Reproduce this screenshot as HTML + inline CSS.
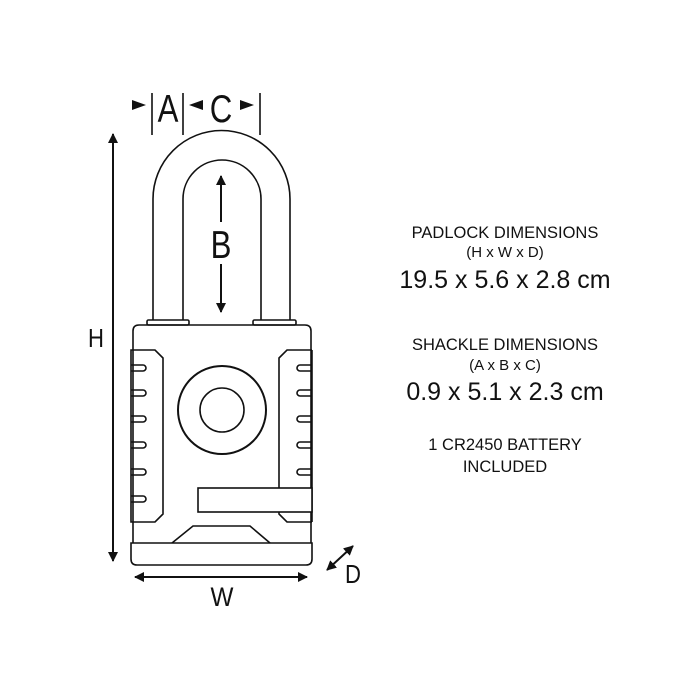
<!DOCTYPE html>
<html><head><meta charset="utf-8"><style>
html,body{margin:0;padding:0;background:#fff;}
svg{display:block;}
text{font-family:"Liberation Sans",sans-serif;fill:#111;}
</style></head><body>
<svg width="700" height="700" viewBox="0 0 700 700" xmlns="http://www.w3.org/2000/svg">
<defs>
<marker id="ah" viewBox="0 0 10 10" refX="9" refY="5" markerWidth="5" markerHeight="5" orient="auto-start-reverse" markerUnits="strokeWidth"><path d="M0,0 L10,5 L0,10 z" fill="#111"/></marker>
</defs>
<g fill="none" stroke="#111" stroke-width="1.6">
<path d="M153,320 V199 A68,68 0 0 1 290,199 V320"/>
<path d="M183,320 V199 A39,39 0 0 1 261,199 V320"/>
<rect x="147" y="320" width="42" height="5" rx="1.5"/>
<rect x="253" y="320" width="43" height="5" rx="1.5"/>
<path d="M133,522 V331 Q133,325 139,325 H305 Q311,325 311,331 V522"/>
<path d="M131,350 H155 L163,358 V514 L155,522 H131 Z M131,365 H143 A3,3 0 0 1 143,371 H131 M131,390 H143 A3,3 0 0 1 143,396 H131 M131,416 H143 A3,3 0 0 1 143,422 H131 M131,442 H143 A3,3 0 0 1 143,448 H131 M131,469 H143 A3,3 0 0 1 143,475 H131 M131,496 H143 A3,3 0 0 1 143,502 H131"/>
<path d="M312,350 H287 L279,358 V488 M279,512 V514 L287,522 H312 M312,365 H300 A3,3 0 0 0 300,371 H312 M312,390 H300 A3,3 0 0 0 300,396 H312 M312,416 H300 A3,3 0 0 0 300,422 H312 M312,442 H300 A3,3 0 0 0 300,448 H312 M312,469 H300 A3,3 0 0 0 300,475 H312 M312,496 H300 A3,3 0 0 0 300,502 H312"/>
<line x1="312" y1="350" x2="312" y2="522"/>
<rect x="198" y="488" width="114" height="24" fill="#fff"/>
<circle cx="222" cy="410" r="44" stroke-width="2"/>
<circle cx="222" cy="410" r="22"/>
<path d="M133,522 V543 M311,522 V543 M172,543 L193,526 H250 L270,543"/>
<path d="M131,543 H312 V559 Q312,565 306,565 H137 Q131,565 131,559 Z"/>
<line x1="152" y1="93" x2="152" y2="135"/>
<line x1="183" y1="93" x2="183" y2="135"/>
<line x1="260" y1="93" x2="260" y2="135"/>
</g>
<g fill="#111">
<path d="M132,100 L146,105 L132,110 Z"/>
<path d="M203,100 L189,105 L203,110 Z"/>
<path d="M240,100 L254,105 L240,110 Z"/>
</g>
<g stroke="#111" stroke-width="2" fill="none">
<line x1="221" y1="176" x2="221" y2="222" marker-start="url(#ah)"/>
<line x1="221" y1="264" x2="221" y2="312" marker-end="url(#ah)"/>
<line x1="113" y1="134" x2="113" y2="561" marker-start="url(#ah)" marker-end="url(#ah)"/>
<line x1="135" y1="577" x2="307" y2="577" marker-start="url(#ah)" marker-end="url(#ah)"/>
<line x1="327" y1="570" x2="353" y2="546" marker-start="url(#ah)" marker-end="url(#ah)"/>
</g>
<text transform="translate(168,122) scale(0.8,1)" font-size="39" text-anchor="middle">A</text>
<text transform="translate(221,122) scale(0.8,1)" font-size="39" text-anchor="middle">C</text>
<text transform="translate(221,258) scale(0.8,1)" font-size="39" text-anchor="middle">B</text>
<text transform="translate(96,347) scale(0.85,1)" font-size="26" text-anchor="middle">H</text>
<text transform="translate(222,606) scale(0.9,1)" font-size="27" text-anchor="middle">W</text>
<text transform="translate(353,583) scale(0.85,1)" font-size="26" text-anchor="middle">D</text>
<g text-anchor="middle">
<text x="505" y="238" font-size="16.5">PADLOCK DIMENSIONS</text>
<text x="505" y="257" font-size="15">(H x W x D)</text>
<text x="505" y="288" font-size="25">19.5 x 5.6 x 2.8 cm</text>
<text x="505" y="350" font-size="16.5">SHACKLE DIMENSIONS</text>
<text x="505" y="370" font-size="15">(A x B x C)</text>
<text x="505" y="400" font-size="25">0.9 x 5.1 x 2.3 cm</text>
<text x="505" y="450" font-size="16.5">1 CR2450 BATTERY</text>
<text x="505" y="472" font-size="16.5">INCLUDED</text>
</g>
</svg>
</body></html>
